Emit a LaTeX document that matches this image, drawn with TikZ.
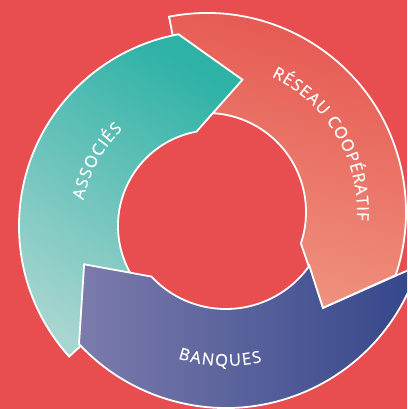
\documentclass[tikz,border=0pt]{standalone}
\usepackage{fontspec}
\setmainfont{Open Sans}
\newfontfamily\ringfont[FakeBold=0.5]{Open Sans}
\newcommand\ringtype{\ringfont\fontsize{16.5}{19}\selectfont}
\usetikzlibrary{decorations.text}
\definecolor{bgred}{HTML}{E84D50}
\definecolor{tealdark}{HTML}{2FB2A6}
\definecolor{teallight}{HTML}{A7D5D0}
\definecolor{salmontop}{HTML}{E5554F}
\definecolor{salmonbot}{HTML}{F0937F}
\definecolor{bluelight}{HTML}{7C7BAC}
\definecolor{bluedark}{HTML}{33468A}
\tikzset{ring/.style={draw=white, line width=1.8pt},
  ringtext/.style={decorate, decoration={text along path, text align=fit to path,
    text color=white, text={|\ringtype|#1}}}}

\begin{document}
\begin{tikzpicture}[x=1pt, y=1pt]
  \useasboundingbox (0,0) rectangle (407,409);
  \fill[bgred] (0,0) rectangle (407,409);
  \clip (0,0) rectangle (407,409);
  \coordinate (tealc) at (214,183);
  \coordinate (salmonc) at (207,197);
  \coordinate (bluec) at (226,202);
%% reseau cooperatif
  \begin{scope}[shift={(salmonc)}]
    \draw[ring, top color=salmontop, bottom color=salmonbot, shading angle=-15]
      (101:199) arc[start angle=101, end angle=-18.5, radius=199] -- (-39.6:150.5)
      -- (-18.5:99) arc[start angle=-18.5, end angle=101, radius=99] -- cycle;
    \path[ringtext={RÉSEAU COOPÉRATIF}] (64.5:150) arc[start angle=64.5, end angle=-3.2, radius=150];
  \end{scope}
%% associes
  \begin{scope}[shift={(tealc)}]
    \draw[ring, top color=tealdark, bottom color=teallight, shading angle=-32]
      (222:195) arc[start angle=222, end angle=100.5, radius=195] -- (79:149)
      -- (100.5:96) arc[start angle=100.5, end angle=222, radius=96] -- cycle;
    \path[ringtext=ASSOCIÉS] (168.8:133) arc[start angle=168.8, end angle=133.3, radius=133];
  \end{scope}
%% banques
  \begin{scope}[shift={(bluec)}]
    \draw[ring, left color=bluelight, right color=bluedark]
      (-17:201) arc[start angle=-17, end angle=-137, radius=201] -- (-158:153)
      -- (-137:102) arc[start angle=-137, end angle=-35.2, radius=102] -- (-46.2:140) -- cycle;
    \path[ringtext=BANQUES] (252.4:159) arc[start angle=252.4, end angle=283.1, radius=159];
  \end{scope}
\end{tikzpicture}
\end{document}
